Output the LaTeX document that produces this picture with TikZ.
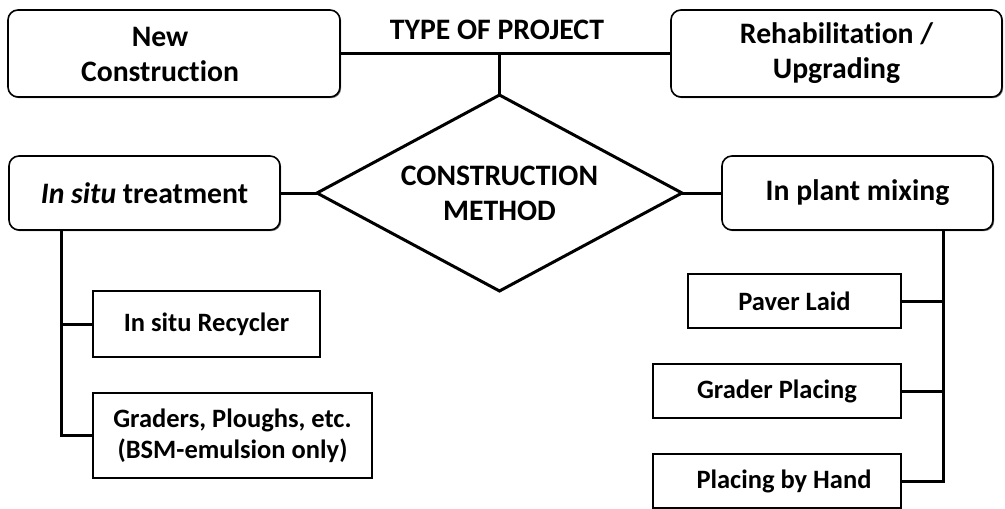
\documentclass[tikz,border=0pt]{standalone}
\usepackage{fontspec}
\setmainfont[Ligatures={NoCommon}]{Carlito}
\usetikzlibrary{shapes.geometric,shadows}
\tikzset{
  big/.style={font=\fontsize{29.7}{35}\selectfont\bfseries, align=center},
  small/.style={font=\fontsize{26.5}{31}\selectfont\bfseries, align=center},
  shad/.style={drop shadow={shadow xshift=1.2pt, shadow yshift=-1.2pt, opacity=0.55, fill=black}},
  rbox/.style={draw, line width=1.6pt, rounded corners=10pt, fill=white, shad, inner sep=0pt, outer sep=0pt},
  sbox/.style={draw, line width=1.6pt, fill=white, shad, inner sep=0pt, outer sep=0pt, small},
  conn/.style={line width=3pt, line join=miter},
}
\begin{document}
\begin{tikzpicture}[x=1pt,y=-1pt]
\useasboundingbox[fill=white] (0,0) rectangle (1005,509);
% top row
\node[rbox, minimum width=332pt, minimum height=87pt] (nc) at (174,53.5) {};
\node[big] (nct) at (160,54.5) {New\\Construction};
\node[rbox, big, minimum width=331pt, minimum height=87pt] (rh) at (836.5,53.5) {Rehabilitation /\\Upgrading};
\node[big] (top) at (497,30) {TYPE OF PROJECT};
% diamond
\node[draw, diamond, line width=3pt, minimum width=365pt, minimum height=196pt, inner sep=0pt, outer sep=0pt] (dm) at (499.5,193) {};
\node[big] (dmt) at (dm.center) {CONSTRUCTION\\METHOD};
% middle row
\node[rbox, big, minimum width=271pt, minimum height=74pt] (it) at (144.5,193) {\textit{In situ} treatment};
\node[rbox, big, minimum width=271pt, minimum height=74pt] (pm) at (857.5,193) {In plant mixing};
% bottom left
\node[sbox, minimum width=227pt, minimum height=66pt] (rc) at (206.5,324) {In situ Recycler};
\node[sbox, minimum width=279pt, minimum height=85pt] (gr) at (232.5,435.5) {Graders, Ploughs, etc.\\(BSM-emulsion only)};
% bottom right
\node[sbox, minimum width=213pt, minimum height=54pt] (pl) at (794.5,301) {Paver Laid};
\node[sbox, minimum width=248pt, minimum height=54pt] (gp) at (777,391) {Grader Placing};
\node[sbox, minimum width=248pt, minimum height=54pt] (ph) at (777,481) {\hspace*{14pt}Placing by Hand};
% connectors
\coordinate (lt) at (61,0);
\coordinate (rt) at (943,0);
\draw[conn] (nc.east) -- (rh.west);
\draw[conn] (dm.north |- nc.east) -- (dm.north);
\draw[conn] (it.east) -- (dm.west);
\draw[conn] (dm.east) -- (pm.west);
\draw[conn] (lt |- it.south) |- (gr.west);
\draw[conn] (lt |- rc.west) -- (rc.west);
\draw[conn] (rt |- pm.south) |- (ph.east);
\draw[conn] (rt |- pl.east) -- (pl.east);
\draw[conn] (rt |- gp.east) -- (gp.east);
\end{tikzpicture}
\end{document}
